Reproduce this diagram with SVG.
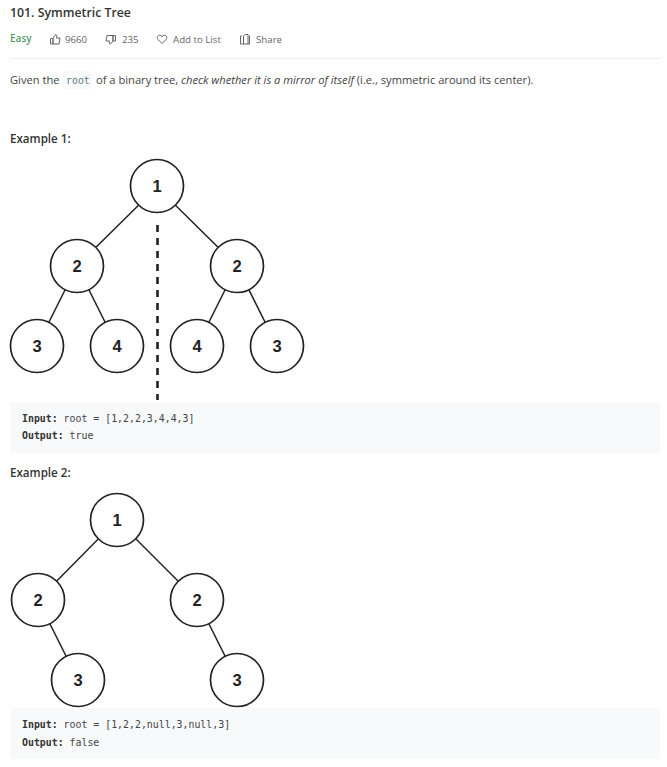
<svg xmlns="http://www.w3.org/2000/svg" width="667" height="767" viewBox="0 0 667 767">
<style>
text{font-family:"Open Sans","Noto Sans","Liberation Sans",sans-serif}
.n circle{fill:#fff;stroke:#222;stroke-width:1.7}
.n text{font-family:"Liberation Sans",Arial,sans-serif;font-size:16.500px;font-weight:700;fill:#222;text-anchor:middle}
.c line{stroke:#222;stroke-width:1.5}
.c line.d{stroke-width:2.600;stroke-dasharray:7 6}
.h{font-size:11.600px;font-weight:600;fill:#333}
.m{font-size:9.700px;fill:#666}
.b{font-size:11.150px;fill:#444}
.k{font-family:"DejaVu Sans Mono","Liberation Mono",monospace;font-size:9.900px;fill:#444}
.kb{font-weight:700;fill:#333}
.i{fill:none;stroke:#666;stroke-width:1}
</style>
<rect width="667" height="767" fill="#fff"/>
<text x="10" y="17" font-size="12.300" font-weight="600" fill="#333">101. Symmetric Tree</text>
<text x="10" y="42" font-size="10" font-weight="600" fill="#5a9a68">Easy</text>
<path class="i" d="M50.500 38.500h2.500v5.500h-2.500zM53 38.500l2.500-4c1.500 0 1.500 2 .8 3.500h3.700l-1 6h-6z"/>
<text class="m" x="65" y="43">9660</text>
<path class="i" d="M115.500 41h-2.500v-5.500h2.500zM113 41l-2.500 3c-1.500 0-1.500-1.500-.8-3h-3.700l1-5.500h6z"/>
<text class="m" x="122" y="43">235</text>
<path class="i" d="M162 43.500l-4-4c-2.500-3 1.500-6 4-3 2.500-3 6.500 0 4 3z"/>
<text class="m" x="173" y="43">Add to List</text>
<path class="i" d="M242 36h-1.500v8h9v-8h-1M243.500 44v-8l2-1.500h2.500v9.500"/>
<text class="m" x="256" y="43">Share</text>
<rect x="10" y="58" width="650" height="1" fill="#eee"/>
<text class="b" x="10" y="84">Given the</text>
<rect x="62" y="71" width="30" height="18" rx="3" fill="#f7f9fa"/>
<text class="k" x="66" y="84" style="fill:#607d8b">root</text>
<text class="b" x="96" y="84">of a binary tree, <tspan font-style="italic">check whether it is a mirror of itself</tspan> (i.e., symmetric around its center).</text>
<text class="h" x="10" y="143">Example 1:</text>
<g class="c" id="connectors-1">
<line x1="157" y1="187" x2="77" y2="266"/><line x1="157" y1="187" x2="237" y2="266"/>
<line x1="77" y1="266" x2="37" y2="346"/><line x1="77" y1="266" x2="117" y2="346"/>
<line x1="237" y1="266" x2="197" y2="346"/><line x1="237" y1="266" x2="277" y2="346"/>
<line class="d" x1="157.500" y1="225" x2="157.500" y2="400"/>
</g>
<g class="n" id="n1-1"><circle cx="157" cy="186" r="26.500"/><text x="157" y="192">1</text></g>
<g class="n" id="n1-2"><circle cx="77" cy="266" r="26.500"/><text x="77" y="272">2</text></g>
<g class="n" id="n1-3"><circle cx="237" cy="266" r="26.500"/><text x="237" y="272">2</text></g>
<g class="n" id="n1-4"><circle cx="37" cy="346" r="26.500"/><text x="37" y="352">3</text></g>
<g class="n" id="n1-5"><circle cx="117" cy="346" r="26.500"/><text x="117" y="352">4</text></g>
<g class="n" id="n1-6"><circle cx="197" cy="346" r="26.500"/><text x="197" y="352">4</text></g>
<g class="n" id="n1-7"><circle cx="277" cy="346" r="26.500"/><text x="277" y="352">3</text></g>
<rect x="10" y="402" width="650" height="51" fill="#f7f9fa"/>
<text class="k" x="22" y="422"><tspan class="kb">Input:</tspan> root = [1,2,2,3,4,4,3]</text>
<text class="k" x="22" y="439"><tspan class="kb">Output:</tspan> true</text>
<text class="h" x="10" y="477">Example 2:</text>
<g class="c" id="connectors-2">
<line x1="117" y1="520" x2="38" y2="600"/><line x1="117" y1="520" x2="197" y2="600"/>
<line x1="38" y1="600" x2="78" y2="680"/><line x1="197" y1="600" x2="237" y2="680"/>
</g>
<g class="n" id="n2-1"><circle cx="117" cy="520" r="26.500"/><text x="117" y="526">1</text></g>
<g class="n" id="n2-2"><circle cx="38" cy="600" r="26.500"/><text x="38" y="606">2</text></g>
<g class="n" id="n2-3"><circle cx="197" cy="600" r="26.500"/><text x="197" y="606">2</text></g>
<g class="n" id="n2-4"><circle cx="78" cy="680" r="26.500"/><text x="78" y="686">3</text></g>
<g class="n" id="n2-5"><circle cx="237" cy="680" r="26.500"/><text x="237" y="686">3</text></g>
<rect x="10" y="708" width="650" height="51" fill="#f7f9fa"/>
<text class="k" x="22" y="728"><tspan class="kb">Input:</tspan> root = [1,2,2,null,3,null,3]</text>
<text class="k" x="22" y="746"><tspan class="kb">Output:</tspan> false</text>
</svg>
